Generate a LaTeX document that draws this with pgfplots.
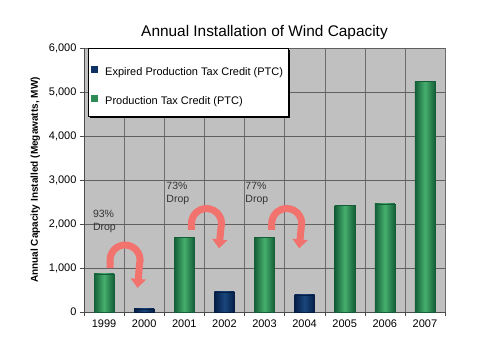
\documentclass[border=0pt]{standalone}
\usepackage{pgfplots}
\pgfplotsset{compat=1.18}
\usepackage{fontspec}
\setmainfont{Liberation Sans}
\usetikzlibrary{arrows.meta,shadows}
\definecolor{bgray}{RGB}{192,192,192}
\definecolor{gdark}{RGB}{20,95,55}
\definecolor{glight}{RGB}{70,175,110}
\definecolor{gmid}{RGB}{45,140,85}
\definecolor{ndark}{RGB}{5,30,70}
\definecolor{nlight}{RGB}{25,70,125}
\definecolor{nmid}{RGB}{15,50,100}
\definecolor{arrowred}{RGB}{242,115,110}
\pgfplotsset{
  gbar/.style={ybar, bar width=20pt, bar shift=0pt, draw=gdark, left color=gdark, right color=gdark, middle color=glight,
    legend image code/.code={\pgfsetfillcolor{gmid}\pgfpathrectangle{\pgfpoint{0pt}{-5pt}}{\pgfpoint{7pt}{7pt}}\pgfusepath{fill}}},
  nbar/.style={ybar, bar width=20pt, bar shift=0pt, draw=ndark, left color=ndark, right color=ndark, middle color=nlight,
    legend image code/.code={\pgfsetfillcolor{nmid}\pgfpathrectangle{\pgfpoint{0pt}{-5pt}}{\pgfpoint{7pt}{7pt}}\pgfusepath{fill}}},
}
\begin{document}
\begin{tikzpicture}[x=1pt,y=1pt]
\path[use as bounding box] (-84,-48) rectangle (396,312);
\begin{axis}[
  at={(0,0)}, anchor=south west,
  scale only axis, width=361pt, height=264pt,
  xmin=-0.5, xmax=8.5, ymin=0, ymax=6000,
  axis background/.style={fill=bgray},
  axis lines=left, axis line style={-, draw=gray!60!black},
  ytick={0,1000,...,6000},
  yticklabel style={/pgf/number format/.cd,1000 sep={,}},
  /pgf/number format/assume math mode=true,
  scaled y ticks=false,
  ymajorgrids, major grid style={draw=gray!75!black, line width=0.5pt},
  xtick={0,...,8},
  xticklabels={1999,2000,2001,2002,2003,2004,2005,2006,2007},
  major x tick style={draw=none},
  minor xtick={-0.5,0.5,...,8.5},
  xminorgrids, minor grid style={draw=gray!85!black, line width=0.3pt},
  tick align=outside, major tick length=4pt, minor tick length=4pt,
  tick style={draw=gray!60!black},
  tick label style={font=\fontsize{11}{13}\selectfont},
  ylabel={\bfseries Annual Capacity Installed (Megawatts, MW)},
  ylabel style={font=\fontsize{10}{12}\selectfont, at={(ticklabel cs:0.5)}, anchor=south, yshift=2pt},
  title={Annual Installation of Wind Capacity},
  title style={font=\fontsize{15.4}{17}\selectfont, yshift=-1pt},
  legend style={at={(0.011,1.0)}, anchor=north west, fill=white, draw=black,
    font=\fontsize{11}{13}\selectfont, row sep=-2pt, inner xsep=3pt, inner ysep=4pt,
    nodes={text height=21pt, text depth=6pt},
    /tikz/every odd column/.append style={column sep=5pt},
    drop shadow={shadow xshift=2pt, shadow yshift=-2pt, fill=black, opacity=1}},
  legend cell align=left,
]
\addplot[nbar] coordinates {(1,70)};
\addlegendentry{Expired Production Tax Credit (PTC)}
\addplot[gbar] coordinates {(0,870)};
\addlegendentry{Production Tax Credit (PTC)}
\addplot[nbar, forget plot] coordinates {(3,460)};
\addplot[nbar, forget plot] coordinates {(5,390)};
\addplot[gbar, forget plot] coordinates {(2,1700)};
\addplot[gbar, forget plot] coordinates {(4,1690)};
\addplot[gbar, forget plot] coordinates {(6,2430)};
\addplot[gbar, forget plot] coordinates {(7,2460)};
\addplot[gbar, forget plot] coordinates {(8,5250)};

\node[anchor=north west, align=left, font=\fontsize{10.5}{13}\selectfont, inner sep=0pt, text=black!80]
  at (axis cs:-0.28,2320) {93\%\\Drop};
\node[anchor=north west, align=left, font=\fontsize{10.5}{13}\selectfont, inner sep=0pt, text=black!80]
  at (axis cs:1.55,2960) {73\%\\Drop};
\node[anchor=north west, align=left, font=\fontsize{10.5}{13}\selectfont, inner sep=0pt, text=black!80]
  at (axis cs:3.52,2960) {77\%\\Drop};

\draw[arrowred, line width=7pt, -{Triangle[width=15pt,length=9pt]}]
  (axis cs:0.15,1000) -- ++(0pt,8pt) arc[start angle=180, end angle=-15, radius=15pt] -- ++(-2pt,-24pt);
\draw[arrowred, line width=7pt, -{Triangle[width=15pt,length=9pt]}]
  (axis cs:2.18,1864) -- ++(0pt,6.5pt) arc[start angle=180, end angle=-15, radius=15pt] -- ++(-2pt,-21pt);
\draw[arrowred, line width=7pt, -{Triangle[width=15pt,length=9pt]}]
  (axis cs:4.18,1864) -- ++(0pt,6.5pt) arc[start angle=180, end angle=-15, radius=15pt] -- ++(-2pt,-21pt);
\end{axis}
\end{tikzpicture}
\end{document}
